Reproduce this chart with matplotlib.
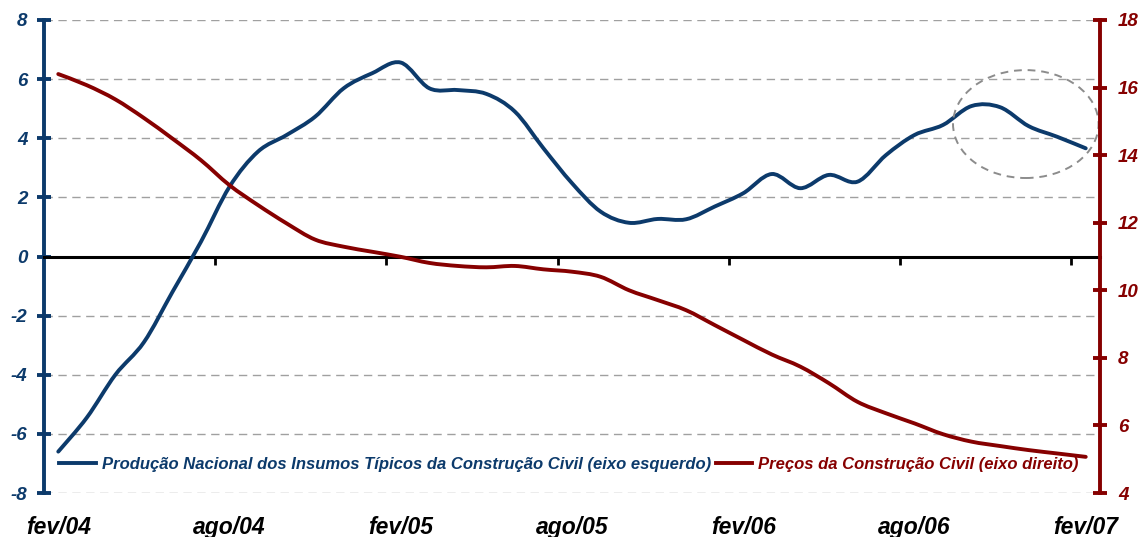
import numpy as np
import matplotlib
matplotlib.use("Agg")
import matplotlib.pyplot as plt
from matplotlib.patches import Ellipse, PathPatch
from matplotlib.path import Path
from matplotlib.lines import Line2D

plt.rcParams["axes.unicode_minus"] = False

# =========================================================
# DATA (monthly, fev/04 .. fev/07)
# =========================================================

x_labels = ["fev/04", "ago/04", "fev/05", "ago/05", "fev/06", "ago/06", "fev/07"]

# Produção Nacional dos Insumos Típicos (eixo esquerdo)
producao = [-6.60, -5.45, -4.00, -2.90, -1.20, 0.50, 2.36, 3.55, 4.11, 4.73,
            5.69, 6.20, 6.56, 5.69, 5.63, 5.50, 4.90, 3.66, 2.48, 1.52,
            1.14, 1.27, 1.26, 1.69, 2.14, 2.79, 2.31, 2.76, 2.53, 3.43,
            4.11, 4.45, 5.09, 5.05, 4.41, 4.05, 3.66]

# Preços da Construção Civil (eixo direito)
precos = [16.40, 16.07, 15.65, 15.10, 14.49, 13.85, 13.11, 12.52, 11.98, 11.50,
          11.29, 11.14, 10.99, 10.81, 10.72, 10.68, 10.72, 10.62, 10.55, 10.40,
          10.00, 9.71, 9.41, 8.97, 8.53, 8.10, 7.74, 7.25, 6.70, 6.36,
          6.06, 5.74, 5.52, 5.39, 5.27, 5.17, 5.07]

label_prod = "Produção Nacional dos Insumos Típicos da Construção Civil (eixo esquerdo)"
label_prec = "Preços da Construção Civil (eixo direito)"

BLUE = "#0c3a6b"
RED = "#860000"
FONT = "Liberation Sans"


# =========================================================
# smoothed line (like excel "smoothed line" option)
# =========================================================

def smooth_path(xs, ys, t=1 / 6):
    xs = np.asarray(xs, float)
    ys = np.asarray(ys, float)
    pts = np.column_stack([xs, ys])
    verts = [pts[0]]
    codes = [Path.MOVETO]
    n = len(pts)
    for i in range(n - 1):
        p0 = pts[i - 1] if i > 0 else pts[i]
        p1 = pts[i]
        p2 = pts[i + 1]
        p3 = pts[i + 2] if i + 2 < n else pts[i + 1]
        c1 = p1 + (p2 - p0) * t
        c2 = p2 - (p3 - p1) * t
        verts += [c1, c2, p2]
        codes += [Path.CURVE4] * 3
    return Path(verts, codes)


# =========================================================
# PLOT
# =========================================================

fig = plt.figure(figsize=(11.43, 5.37), dpi=100)
ax = fig.add_axes([44 / 1143, 44 / 537, (1100 - 44) / 1143, (493 - 20) / 537])
ax2 = ax.twinx()

x = np.arange(len(producao))

ax.set_xlim(-0.5, len(producao) - 0.5)
ax.set_ylim(-8, 8)
ax2.set_ylim(4, 18)

# grid (dashed) except zero
for v in np.arange(-8, 9, 2):
    if v != 0:
        ax.axhline(v, color="#a0a0a0", lw=1.0, ls=(0, (6, 4)), zorder=0)

ax.add_patch(PathPatch(smooth_path(x, producao), fill=False, edgecolor=BLUE,
                       lw=2.8, capstyle="round", joinstyle="round", zorder=3))
ax2.add_patch(PathPatch(smooth_path(x, precos), fill=False, edgecolor=RED,
                        lw=2.8, capstyle="round", joinstyle="round", zorder=3))

# x axis on zero
ax.spines["bottom"].set_position(("data", 0))
ax.spines["bottom"].set_linewidth(2.2)
ax.spines["bottom"].set_color("black")
ax.set_xticks(np.arange(5.5, len(producao), 6))
ax.tick_params(axis="x", direction="out", length=6, width=2, color="black",
               labelbottom=False)
for sp in ["top", "right"]:
    ax.spines[sp].set_visible(False)
for sp in ["top", "left", "bottom"]:
    ax2.spines[sp].set_visible(False)

ax.spines["left"].set_color(BLUE)
ax.spines["left"].set_linewidth(2.8)
ax.set_yticks(np.arange(-8, 9, 2))
ax.tick_params(axis="y", direction="inout", length=10, width=2.8, color=BLUE,
               labelcolor=BLUE, pad=7)

ax2.spines["right"].set_color(RED)
ax2.spines["right"].set_linewidth(2.8)
ax2.set_yticks(np.arange(4, 19, 2))
ax2.tick_params(axis="y", direction="inout", length=10, width=2.8, color=RED,
                labelcolor=RED, pad=8)

for lab in ax.get_yticklabels() + ax2.get_yticklabels():
    lab.set_fontfamily(FONT)
    lab.set_fontweight("bold")
    lab.set_fontstyle("italic")
    lab.set_fontsize(13.5)

# category labels under the plot
for i, t in enumerate(x_labels):
    ax.text(i * 6, -0.072, t, transform=ax.get_xaxis_transform(), ha="center", va="center",
            fontsize=16.5, fontweight="bold", fontstyle="italic", family=FONT, color="black")

# dashed highlight ellipse
ell = Ellipse((33.9, 4.48), 5.1, 3.65, fill=False, ls=(0, (4, 3)), lw=1.4,
              edgecolor="#8c8c8c", zorder=4)
ax.add_patch(ell)

handles = [Line2D([], [], color=BLUE, lw=2.8), Line2D([], [], color=RED, lw=2.8)]
leg = ax2.legend(handles, [label_prod, label_prec], loc="lower left",
                 bbox_to_anchor=(0.0, 0.012), ncol=2,
                 frameon=False, handlelength=2.2, handletextpad=0.35, columnspacing=0.3,
                 prop={"family": FONT, "weight": "bold", "style": "italic", "size": 12})
for txt, c in zip(leg.get_texts(), [BLUE, RED]):
    txt.set_color(c)

fig.savefig("out.png", dpi=100, facecolor="white")
